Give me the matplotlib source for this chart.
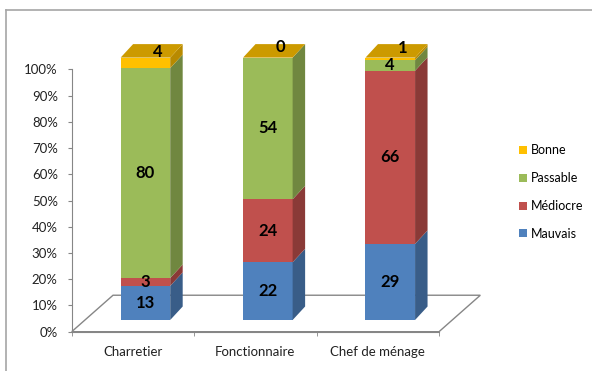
import numpy as np
import matplotlib
matplotlib.use('Agg')
import matplotlib.pyplot as plt
from matplotlib.patches import Polygon
from matplotlib.ticker import PercentFormatter
from matplotlib.colors import to_rgb

plt.rcParams['font.family'] = ['Lato', 'DejaVu Sans']

categories = ['Charretier', 'Fonctionnaire', 'Chef de ménage']
series = ['Mauvais', 'Médiocre', 'Passable', 'Bonne']
mauvais = [13, 22, 29]
mediocre = [3, 24, 66]
passable = [80, 54, 4]
bonne = [4, 0, 1]
colors = ['#4F81BD', '#C0504D', '#9BBB59', '#FFC000']

values = np.array([mauvais, mediocre, passable, bonne], dtype=float)
pct = values / values.sum(axis=0) * 100

# pseudo-3d geometry, in data units (category width = 1, percent on y)
bar_w = 0.405
front_dx, front_dy = 0.102, 4.46     # bar front plane vs axis plane
depth_dx, depth_dy = 0.102, 5.14     # bar depth
floor_dx, floor_dy = 0.3375, 13.9    # floor depth

def shade(c, f):
    r, g, b = to_rgb(c)
    return (r * f, g * f, b * f)

fig = plt.figure(figsize=(5.92, 3.71), dpi=100)
ax = fig.add_axes([71.7 / 592, 39.3 / 371, 367.3 / 592, 262.4 / 371])
ax.set_xlim(0, 3)
ax.set_ylim(0, 100)
ax.patch.set_visible(False)

grey = '#868686'
for s in ['top', 'right']:
    ax.spines[s].set_visible(False)
ax.spines['left'].set_color(grey)
ax.spines['bottom'].set_color(grey)

# floor
floor = Polygon([(0, 0), (3, 0), (3 + floor_dx, floor_dy), (floor_dx, floor_dy)],
                closed=True, facecolor='white', edgecolor=grey, lw=1, clip_on=False, zorder=1)
ax.add_patch(floor)

for i in range(len(categories)):
    x0 = i + 0.5 - bar_w / 2 + front_dx
    x1 = x0 + bar_w
    bottom = 0.0
    for k in range(len(series)):
        h = pct[k, i]
        y0 = bottom + front_dy
        y1 = y0 + h
        c = colors[k]
        if h > 0:
            ax.add_patch(Polygon([(x0, y0), (x1, y0), (x1, y1), (x0, y1)], closed=True,
                                 facecolor=c, edgecolor='none', clip_on=False, zorder=3))
            ax.add_patch(Polygon([(x1, y0), (x1 + depth_dx, y0 + depth_dy),
                                  (x1 + depth_dx, y1 + depth_dy), (x1, y1)], closed=True,
                                 facecolor=shade(c, 0.72), edgecolor='none', clip_on=False, zorder=3))
        if k == len(series) - 1:
            ax.add_patch(Polygon([(x0, y1), (x1, y1), (x1 + depth_dx, y1 + depth_dy),
                                  (x0 + depth_dx, y1 + depth_dy)], closed=True,
                                 facecolor=shade(c, 0.8), edgecolor='none', clip_on=False, zorder=3))
            tx = (x0 + x1) / 2 + depth_dx
            ty = (y0 + y1) / 2 + depth_dy * 0.8
        else:
            tx = (x0 + x1) / 2
            ty = (y0 + y1) / 2
        ax.text(tx, ty, '%d' % values[k, i], ha='center', va='center', fontsize=12,
                fontweight='bold', color='black', clip_on=False, zorder=5)
        bottom += h

ax.set_yticks(np.arange(0, 101, 10))
ax.yaxis.set_major_formatter(PercentFormatter(decimals=0))
ax.tick_params(axis='y', length=3, color=grey, labelsize=9.5, pad=7, labelcolor='#222222')
ax.set_xticks([0.5, 1.5, 2.5])
ax.set_xticklabels(categories)
ax.set_xticks([0, 1, 2, 3], minor=True)
ax.tick_params(axis='x', which='major', length=0, labelsize=9.5, pad=10, labelcolor='#222222')
ax.tick_params(axis='x', which='minor', length=3, color=grey)

# legend
handles = [plt.Rectangle((0, 0), 1, 1, facecolor=colors[k]) for k in range(len(series) - 1, -1, -1)]
fig.legend(handles, series[::-1], loc='upper left', bbox_to_anchor=(508 / 592, 1 - 133 / 371),
           frameon=False, fontsize=9, handlelength=0.6, handleheight=0.6, handletextpad=0.3,
           labelspacing=1.27)

# chart border
fig.add_artist(plt.Line2D([6 / 592, 6 / 592], [0, 1 - 10 / 371], color='#A6A6A6', lw=1.2))
fig.add_artist(plt.Line2D([6 / 592, 1], [1 - 10 / 371, 1 - 10 / 371], color='#A6A6A6', lw=1.2))

fig.savefig('out.png', dpi=100)
